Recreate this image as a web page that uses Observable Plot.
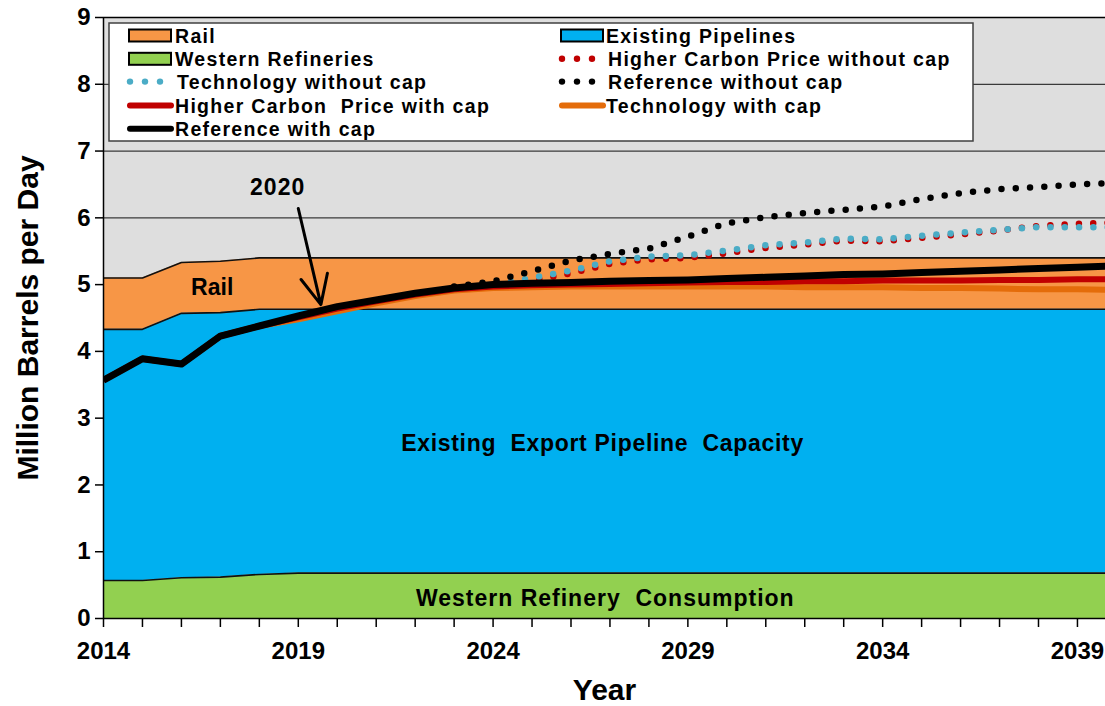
<!DOCTYPE html>
<html>
<head>
<meta charset="utf-8">
<script src="https://cdn.jsdelivr.net/npm/d3@7"></script>
<script src="https://cdn.jsdelivr.net/npm/@observablehq/plot@0.6"></script>
<style>
  body { margin: 0; background: #fff; }
  #chart { position: relative; width: 1105px; height: 706px; overflow: hidden; }
  svg text { white-space: pre; }
</style>
</head>
<body>
<div id="chart"></div>
<script>
// ---------- DATA ----------
const years = [2014, 2015, 2016, 2017, 2018, 2019, 2020, 2021, 2022, 2023, 2024, 2025, 2026, 2027,
               2028, 2029, 2030, 2031, 2032, 2033, 2034, 2035, 2036, 2037, 2038, 2039, 2040];

// stacked capacity (million barrels per day)
const stackSeries = ["Western Refineries", "Existing Pipelines", "Rail"];
const westernRefineries = [0.57, 0.57, 0.61, 0.62, 0.66, 0.68, 0.68, 0.68, 0.68, 0.68, 0.68, 0.68, 0.68, 0.68,
                           0.68, 0.68, 0.68, 0.68, 0.68, 0.68, 0.68, 0.68, 0.68, 0.68, 0.68, 0.68, 0.68];
const existingPipelines = [3.76, 3.76, 3.96, 3.96, 3.97, 3.95, 3.95, 3.95, 3.95, 3.95, 3.95, 3.95, 3.95, 3.95,
                           3.95, 3.95, 3.95, 3.95, 3.95, 3.95, 3.95, 3.95, 3.95, 3.95, 3.95, 3.95, 3.95];
const rail = [0.77, 0.77, 0.76, 0.77, 0.77, 0.77, 0.77, 0.77, 0.77, 0.77, 0.77, 0.77, 0.77, 0.77,
              0.77, 0.77, 0.77, 0.77, 0.77, 0.77, 0.77, 0.77, 0.77, 0.77, 0.77, 0.77, 0.77];
const stackColors = ["#92d050", "#00b0f0", "#f79646"];

// supply scenarios with cap (2014-2040)
const referenceWithCap = [3.57, 3.89, 3.81, 4.23, 4.38, 4.53, 4.67, 4.77, 4.87, 4.95, 5.00, 5.02, 5.03, 5.05,
                          5.06, 5.07, 5.09, 5.11, 5.13, 5.15, 5.16, 5.18, 5.20, 5.22, 5.24, 5.26, 5.28];
const higherCarbonWithCap = [3.57, 3.89, 3.81, 4.23, 4.38, 4.51, 4.64, 4.75, 4.85, 4.93, 4.97, 4.99, 5.00, 5.01,
                             5.02, 5.03, 5.04, 5.04, 5.05, 5.05, 5.06, 5.06, 5.06, 5.07, 5.07, 5.08, 5.08];
const technologyWithCap = [3.57, 3.89, 3.81, 4.23, 4.38, 4.48, 4.60, 4.72, 4.83, 4.91, 4.95, 4.96, 4.97, 4.97,
                           4.97, 4.97, 4.97, 4.97, 4.96, 4.96, 4.96, 4.95, 4.95, 4.94, 4.93, 4.93, 4.92];

// supply scenarios without cap (2023-2040)
const noCapYears = [2023, 2024, 2025, 2026, 2027, 2028, 2029, 2030, 2031, 2032, 2033, 2034, 2035, 2036,
                    2037, 2038, 2039, 2040];
const referenceWithoutCap = [4.97, 5.05, 5.20, 5.36, 5.46, 5.54, 5.72, 5.92, 6.01, 6.07, 6.12, 6.17, 6.28, 6.37,
                             6.43, 6.46, 6.50, 6.52];
const technologyWithoutCap = [4.95, 5.00, 5.10, 5.21, 5.35, 5.42, 5.44, 5.51, 5.59, 5.63, 5.69, 5.68, 5.73, 5.78,
                              5.82, 5.86, 5.86, 5.86];
const higherCarbonWithoutCap = [4.95, 4.97, 5.06, 5.17, 5.31, 5.38, 5.40, 5.47, 5.55, 5.60, 5.66, 5.65, 5.70, 5.75,
                                5.81, 5.88, 5.91, 5.93];

// axes
const yTicks = [0, 1, 2, 3, 4, 5, 6, 7, 8, 9];
const gridLines = [1, 2, 3, 4, 5, 6, 7, 8];
const xLabelYears = [2014, 2019, 2024, 2029, 2034, 2039];

// annotations (data units)
const annotationLabels = ["Rail", "Existing  Export Pipeline  Capacity", "Western Refinery  Consumption", "2020"];
const annotationYears = [2016.79, 2026.81, 2026.88, 2018.47];
const annotationValues = [4.95, 2.62, 0.30, 6.45];
const arrowStart = [2019.0, 6.14];
const arrowEnd = [2019.58, 4.70];

// legend
const legendLabels = ["Rail", "Western Refineries", "Technology without cap", "Higher Carbon  Price with cap", "Reference with cap",
                      "Existing Pipelines", "Higher Carbon Price without cap", "Reference without cap", "Technology with cap"];
const legendKinds = ["rect", "rect", "dots", "line", "line", "rect", "dots", "dots", "line"];
const legendColors = ["#f79646", "#92d050", "#4bacc6", "#c00000", "#000000", "#00b0f0", "#c00000", "#000000", "#e46c0a"];

// ---------- BUILD TABLES ----------
const stackValues = [westernRefineries, existingPipelines, rail];
const stackTable = stackSeries.flatMap((s, i) => years.map((yr, j) => ({year: yr, series: s, value: stackValues[i][j]})));
const tbl = (xs, ys) => xs.map((x, i) => ({x, y: ys[i]}));
const annotations = annotationLabels.map((t, i) => ({t, x: annotationYears[i], y: annotationValues[i]}));

const dotted = {strokeWidth: 6.5, strokeDasharray: "0 14.3", strokeLinecap: "round", clip: true};
const solid = {strokeLinejoin: "round", strokeLinecap: "butt", clip: true};

const plot = Plot.plot({
  width: 1105,
  height: 706,
  marginLeft: 103,
  marginRight: 0,
  marginTop: 17,
  marginBottom: 88,
  style: {fontFamily: "'Liberation Sans', Arial, sans-serif", fontSize: "24px", fontWeight: "bold", color: "#000", background: "#fff"},
  x: {domain: [2014, 2039.72]},
  y: {domain: [0, 9]},
  color: {domain: stackSeries, range: stackColors},
  marks: [
    Plot.frame({fill: "#dedede", stroke: null}),
    Plot.ruleY(gridLines, {stroke: "#3a3a3a", strokeWidth: 1.2}),
    Plot.areaY(stackTable, {x: "year", y: "value", z: "series", fill: "series", clip: true}),
    Plot.lineY(stackTable, Plot.stackY2({x: "year", y: "value", z: "series", stroke: "#111", strokeWidth: 1.6, clip: true})),
    // without-cap scenarios (dotted)
    Plot.lineY(tbl(noCapYears, higherCarbonWithoutCap), {x: "x", y: "y", stroke: "#c00000", ...dotted}),
    Plot.lineY(tbl(noCapYears, technologyWithoutCap), {x: "x", y: "y", stroke: "#4bacc6", ...dotted}),
    Plot.lineY(tbl(noCapYears, referenceWithoutCap), {x: "x", y: "y", stroke: "#000", ...dotted}),
    // with-cap scenarios (solid)
    Plot.lineY(tbl(years, technologyWithCap), {x: "x", y: "y", stroke: "#e46c0a", strokeWidth: 6, ...solid}),
    Plot.lineY(tbl(years, higherCarbonWithCap), {x: "x", y: "y", stroke: "#c00000", strokeWidth: 6, ...solid}),
    Plot.lineY(tbl(years, referenceWithCap), {x: "x", y: "y", stroke: "#000", strokeWidth: 7, ...solid}),
    // frame lines
    Plot.ruleY([9], {stroke: "#000", strokeWidth: 1.5}),
    Plot.ruleY([0], {stroke: "#000", strokeWidth: 1.5}),
    Plot.ruleX([2014], {stroke: "#000", strokeWidth: 1.5}),
    // axes
    Plot.axisY({ticks: yTicks, tickSize: 8, tickPadding: 5, label: null, strokeWidth: 1.5}),
    Plot.axisX({ticks: years.filter(y => y <= 2039), tickFormat: d => xLabelYears.includes(d) ? String(d) : "",
                tickSize: 9, tickPadding: 14, label: null, strokeWidth: 1.5}),
    Plot.text(["Million Barrels per Day"], {frameAnchor: "left", dx: -75, rotate: -90, fontSize: 30,
                                           textAnchor: "middle", lineAnchor: "middle", text: d => d}),
    Plot.text(["Year"], {frameAnchor: "bottom", dy: 72, fontSize: 30, lineAnchor: "middle", text: d => d}),
    // annotations
    Plot.text(annotations, {x: "x", y: "y", text: "t", fontSize: 23}),
    Plot.arrow([{x1: arrowStart[0], y1: arrowStart[1], x2: arrowEnd[0], y2: arrowEnd[1]}],
               {x1: "x1", y1: "y1", x2: "x2", y2: "y2", stroke: "#000", strokeWidth: 3, headLength: 16, headAngle: 50})
  ]
});

// letter spacing tweaks for wide annotation text
const spacing = {"Existing  Export Pipeline  Capacity": "0.7px", "Western Refinery  Consumption": "1px", "2020": "1px"};
d3.select(plot).selectAll("text").each(function() {
  const s = spacing[this.textContent];
  if (s) this.style.letterSpacing = s;
});

// ---------- LEGEND ----------
const svg = d3.select(plot);
const lg = svg.append("g")
  .attr("font-family", "'Liberation Sans', Arial, sans-serif")
  .attr("font-weight", "bold")
  .attr("text-anchor", "start");
lg.append("rect").attr("x", 109).attr("y", 23).attr("width", 864).attr("height", 118)
  .attr("fill", "#fff").attr("stroke", "#404040").attr("stroke-width", 1.5);
const rowBase = [42.5, 65.8, 88.6, 112.6, 135.8];
legendLabels.forEach((label, i) => {
  const col = i < 5 ? 0 : 1;
  const row = col === 0 ? i : i - 5;
  const sx = col === 0 ? 129 : 561;
  const tx = col === 0 ? 175 : 606;
  const cy = rowBase[row] - 7;
  const kind = legendKinds[i], color = legendColors[i];
  if (kind === "rect") {
    lg.append("rect").attr("x", sx).attr("y", cy - 6).attr("width", 42).attr("height", 12)
      .attr("fill", color).attr("stroke", "#000").attr("stroke-width", 2);
  } else if (kind === "dots") {
    [0, 15, 30].forEach(d => lg.append("circle").attr("cx", sx + 1 + d).attr("cy", cy).attr("r", 3.2).attr("fill", color));
  } else {
    lg.append("line").attr("x1", sx + 1).attr("x2", sx + 42).attr("y1", cy).attr("y2", cy)
      .attr("stroke", color).attr("stroke-width", 6).attr("stroke-linecap", "round");
  }
  lg.append("text").attr("x", tx + (kind === "dots" ? 2 : 0)).attr("y", rowBase[row])
    .attr("text-anchor", "start")
    .attr("font-size", 19.5).style("letter-spacing", "1.3px").style("white-space", "pre").text(label);
});

document.getElementById("chart").appendChild(plot);
</script>
</body>
</html>
